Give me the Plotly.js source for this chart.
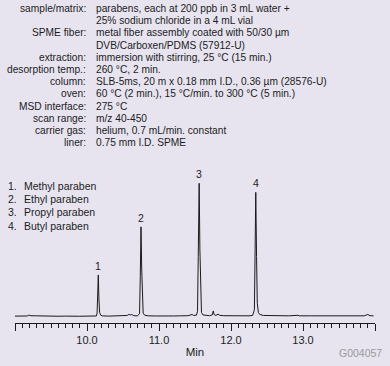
<!DOCTYPE html>
<html>
<head>
<meta charset="utf-8">
<script src="https://cdn.plot.ly/plotly-3.0.1.min.js"></script>
<style>
  html, body { margin: 0; padding: 0; background: #E7E4F0; }
  #chart { width: 390px; height: 366px; }
</style>
</head>
<body>
<div id="chart"></div>
<script>
// Chromatogram: retention time (min) and relative abundance (peak 3 = 100)
const times = [9.00, 9.10, 9.17, 9.19, 9.22, 9.30, 9.40, 9.50, 9.60, 9.70, 9.78, 9.80, 9.82, 9.90,
  10.00, 10.10, 10.13, 10.14, 10.15, 10.157, 10.165, 10.175, 10.19, 10.21, 10.30, 10.40, 10.50,
  10.56, 10.58, 10.60, 10.62, 10.65, 10.70, 10.73, 10.74, 10.75, 10.76, 10.77, 10.78, 10.80, 10.85,
  10.95, 11.00, 11.10, 11.20, 11.30, 11.40, 11.46, 11.48, 11.52, 11.535, 11.545, 11.558, 11.568,
  11.578, 11.59, 11.61, 11.65, 11.70, 11.74, 11.754, 11.765, 11.79, 11.82, 11.84, 11.90, 12.00,
  12.10, 12.20, 12.25, 12.30, 12.325, 12.335, 12.344, 12.355, 12.365, 12.38, 12.40, 12.45, 12.55,
  12.60, 12.70, 12.80, 12.93, 12.95, 13.10, 13.30, 13.50, 13.70, 13.85, 13.90, 13.93, 13.98];
const signal = [0.3, 0.2, 0.4, 1.0, 0.6, 0.5, 0.3, 0.4, 0.2, 0.3, 0.1, 0.6, 0.2, 0.2,
  0.3, 0.3, 0.4, 2.5, 18, 31.2, 14, 3, 1.0, 0.5, 0.3, 0.4, 0.4,
  0.8, 1.6, 1.2, 1.5, 0.6, 0.5, 2.0, 30, 67.3, 35, 8, 2.5, 1.0, 0.5,
  0.4, 0.3, 0.3, 0.4, 0.5, 0.6, 1.5, 0.8, 1.0, 4, 45, 100, 50,
  10, 3, 1.2, 0.8, 0.6, 1.2, 4.2, 1.5, 0.8, 1.8, 0.9, 0.6, 0.5,
  0.5, 0.6, 0.5, 0.8, 5, 50, 93.2, 45, 10, 3, 1.5, 0.8, 0.6,
  0.9, 0.6, 0.5, 0.9, 0.5, 0.5, 0.4, 0.7, 0.6, 0.5, 1.5, 0.6, 0.5];

// Peak identities
const peakNumbers = ["1", "2", "3", "4"];
const peakTimes = [10.157, 10.75, 11.558, 12.344];
const peakHeights = [31.2, 67.3, 100, 93.2];
const peakNames = ["Methyl paraben", "Ethyl paraben", "Propyl paraben", "Butyl paraben"];

// Axis ticks
const tickVals = [9, 10, 11, 12, 13, 14];
const tickText = ["", "10.0", "11.0", "12.0", "13.0", ""];

// Conditions block
const condLabels = ["sample/matrix:", "", "SPME fiber:", "", "extraction:", "desorption temp.:",
  "column:", "oven:", "MSD interface:", "scan range:", "carrier gas:", "liner:"];
const condValues = ["parabens, each at 200 ppb in 3 mL water +",
  "25% sodium chloride in a 4 mL vial",
  "metal fiber assembly coated with 50/30 µm",
  "DVB/Carboxen/PDMS (57912-U)",
  "immersion with stirring, 25 °C (15 min.)",
  "260 °C, 2 min.",
  "SLB-5ms, 20 m x 0.18 mm I.D., 0.36 µm (28576-U)",
  "60 °C (2 min.), 15 °C/min. to 300 °C (5 min.)",
  "275 °C",
  "m/z 40-450",
  "helium, 0.7 mL/min. constant",
  "0.75 mm I.D. SPME"];

const W = 390, H = 366;
const FONT = "Liberation Sans, Arial, Helvetica, sans-serif";
const TXT = "#1c1c1c";
const px = x => x / W;
const py = y => 1 - y / H;

const annotations = [];
condLabels.forEach((lab, i) => {
  const y = py(8.5 + 12.2 * i);
  if (lab) annotations.push({text: lab, xref: "paper", yref: "paper", x: px(88), y: y,
    xanchor: "right", yanchor: "middle", showarrow: false, font: {family: FONT, size: 10.2, color: TXT}});
  annotations.push({text: condValues[i], xref: "paper", yref: "paper", x: px(94), y: y,
    xanchor: "left", yanchor: "middle", showarrow: false, font: {family: FONT, size: 10.2, color: TXT}});
});
peakNames.forEach((name, i) => {
  const y = py(186 + 13.2 * i);
  annotations.push({text: peakNumbers[i] + ".", xref: "paper", yref: "paper", x: px(6), y: y,
    xanchor: "left", yanchor: "middle", showarrow: false, font: {family: FONT, size: 10.5, color: TXT}});
  annotations.push({text: name, xref: "paper", yref: "paper", x: px(22), y: y,
    xanchor: "left", yanchor: "middle", showarrow: false, font: {family: FONT, size: 10.5, color: TXT}});
});
peakNumbers.forEach((n, i) => {
  annotations.push({text: n, xref: "x", yref: "y", x: peakTimes[i], y: peakHeights[i],
    xanchor: "center", yanchor: "bottom", yshift: 1, showarrow: false,
    font: {family: FONT, size: 10.5, color: TXT}});
});
annotations.push({text: "G004057", xref: "paper", yref: "paper", x: px(384), y: py(353),
  xanchor: "right", yanchor: "middle", showarrow: false, font: {family: FONT, size: 10.5, color: "#9a9a9a"}});

const trace = {x: times, y: signal, type: "scatter", mode: "lines",
  line: {color: "#1a1a1a", width: 1}, hoverinfo: "skip"};

const layout = {
  width: W, height: H,
  margin: {l: 0, r: 0, t: 0, b: 0, pad: 0},
  paper_bgcolor: "#E7E4F0", plot_bgcolor: "rgba(0,0,0,0)",
  showlegend: false,
  xaxis: {
    domain: [px(15), px(375)], range: [9, 14], anchor: "y",
    showline: true, linecolor: "#1a1a1a", linewidth: 1,
    showgrid: false, zeroline: false,
    tickmode: "array", tickvals: tickVals, ticktext: tickText,
    ticks: "outside", ticklen: 7, tickwidth: 1, tickcolor: "#1a1a1a",
    minor: {dtick: 0.1, tick0: 9, ticks: "outside", ticklen: 4, tickwidth: 1, tickcolor: "#1a1a1a", showgrid: false},
    tickfont: {family: FONT, size: 11, color: TXT},
    title: {text: "Min", font: {family: FONT, size: 11.5, color: TXT}, standoff: 3},
    automargin: false, fixedrange: true
  },
  yaxis: {
    domain: [py(322.7), py(173.3)], range: [-4.65, 107.5],
    visible: false, showgrid: false, zeroline: false, fixedrange: true
  },
  annotations: annotations
};

Plotly.newPlot("chart", [trace], layout, {staticPlot: true, displayModeBar: false});
</script>
</body>
</html>
